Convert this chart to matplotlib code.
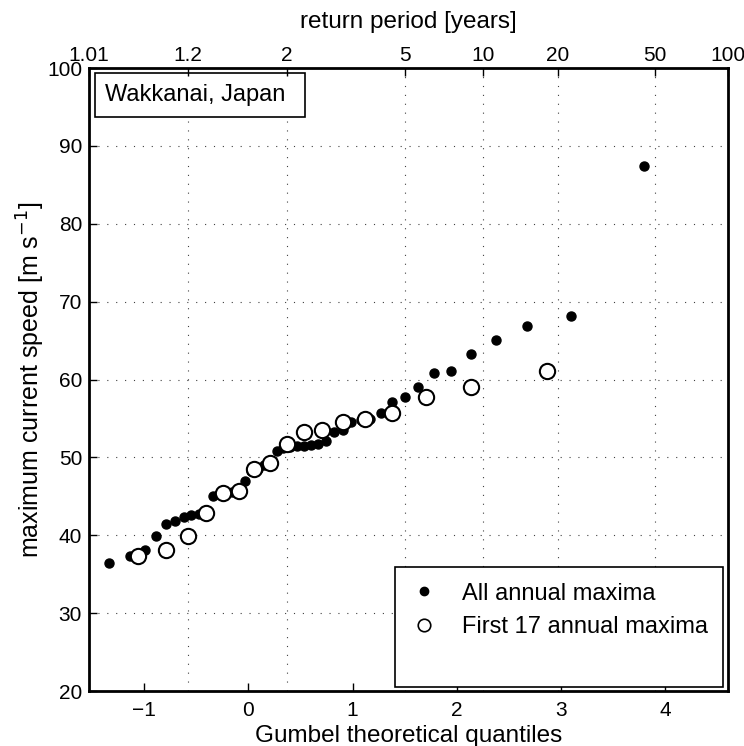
import numpy as np
import matplotlib.pyplot as plt
from matplotlib.lines import Line2D
from matplotlib.patches import Rectangle

plt.rcParams['font.family'] = ['Liberation Sans', 'DejaVu Sans']
plt.rcParams['font.size'] = 15

station = "Wakkanai, Japan"

# annual maximum current speeds [m/s], sorted ascending
all_maxima = [36.5, 37.3, 38.1, 39.9, 41.4, 41.8, 42.3, 42.6, 42.7, 42.8,
              45.0, 45.3, 45.4, 45.6, 45.7, 47.0, 48.3, 48.5, 49.0, 49.3,
              50.8, 51.2, 51.3, 51.4, 51.5, 51.6, 51.7, 52.1, 53.3, 53.5,
              54.6, 54.8, 54.9, 55.7, 57.1, 57.7, 59.0, 60.9, 61.1, 63.3,
              65.1, 66.9, 68.2, 87.4]
first17_maxima = [37.3, 38.1, 39.9, 42.8, 45.4, 45.7, 48.5, 49.3, 51.7, 53.3,
                  53.5, 54.6, 54.9, 55.7, 57.7, 59.0, 61.1]

return_periods = [1.01, 1.2, 2, 5, 10, 20, 50, 100]
return_labels = ["1.01", "1.2", "2", "5", "10", "20", "50", "100"]
x_ticks = [-1, 0, 1, 2, 3, 4]
y_ticks = [20, 30, 40, 50, 60, 70, 80, 90, 100]


def gumbel_positions(values):
    # Weibull plotting positions mapped to the Gumbel reduced variate
    n = len(values)
    p = np.arange(1, n + 1) / (n + 1)
    return -np.log(-np.log(p))


def period_to_variate(T):
    T = np.asarray(T, dtype=float)
    return -np.log(-np.log(1 - 1 / T))


fig = plt.figure(figsize=(7.44, 7.46), dpi=100)
ax = fig.add_axes([0.1196, 0.0737, 0.8589, 0.8351])

x_all = gumbel_positions(all_maxima)
x_17 = gumbel_positions(first17_maxima)

ax.plot(x_all, np.sort(all_maxima), 'o', color='black', markersize=6.5,
        zorder=3)
ax.plot(x_17, np.sort(first17_maxima), 'o', markerfacecolor='white',
        markeredgecolor='black', markersize=11, markeredgewidth=1.5, zorder=4)

t_pos = period_to_variate(return_periods)
ax.set_xlim(t_pos[0], t_pos[-1])
ax.set_ylim(20, 100)
ax.set_xticks(x_ticks)
ax.set_xticklabels([str(v).replace('-', '\u2212') for v in x_ticks])
ax.set_yticks(y_ticks)

grid_style = dict(color='0.25', linewidth=0.8, linestyle=(0, (1, 7)), zorder=1)
ax.grid(axis='y', **grid_style)
for xp in t_pos[1:-1]:
    ax.axvline(xp, **grid_style)

ax.tick_params(direction='in', length=6, width=1, pad=7)
ax.tick_params(axis='y', pad=5)
for sp in ax.spines.values():
    sp.set_linewidth(2)

ax.set_xlabel("Gumbel theoretical quantiles", fontsize=17.5, labelpad=4)
ax.set_ylabel("maximum current speed [m s$^{-1}$]", fontsize=18, labelpad=0)

# return period axis on top
ax2 = ax.twiny()
ax2.set_xlim(ax.get_xlim())
ax2.set_xticks(t_pos)
ax2.set_xticklabels(return_labels)
ax2.tick_params(direction='in', length=6, width=1, pad=2)
for sp in ax2.spines.values():
    sp.set_visible(False)
ax2.set_xlabel("return period [years]", fontsize=17.5, labelpad=13)

# station label box
ax.add_patch(Rectangle((0.0094, 0.921), 0.329, 0.071, transform=ax.transAxes,
                       facecolor='white', edgecolor='black', linewidth=1.2,
                       zorder=5))
ax.text(0.025, 0.956, station, transform=ax.transAxes, va='center',
        ha='left', fontsize=17, zorder=6)

# legend box with room below the entries
ax.add_patch(Rectangle((0.479, 0.0064), 0.513, 0.193, transform=ax.transAxes,
                       facecolor='white', edgecolor='black', linewidth=1.2,
                       zorder=5))
handles = [
    Line2D([], [], linestyle='none', marker='o', color='black', markersize=6),
    Line2D([], [], linestyle='none', marker='o', markerfacecolor='white',
           markeredgecolor='black', markersize=9, markeredgewidth=1.2),
]
leg = ax.legend(handles, ["All annual maxima", "First 17 annual maxima"],
                loc='upper left', bbox_to_anchor=(0.508, 0.174),
                frameon=False, borderaxespad=0, borderpad=0, fontsize=17,
                handlelength=0.85, handletextpad=1.2, labelspacing=0.5)
leg.set_zorder(7)

fig.savefig("out.png", dpi=100)
